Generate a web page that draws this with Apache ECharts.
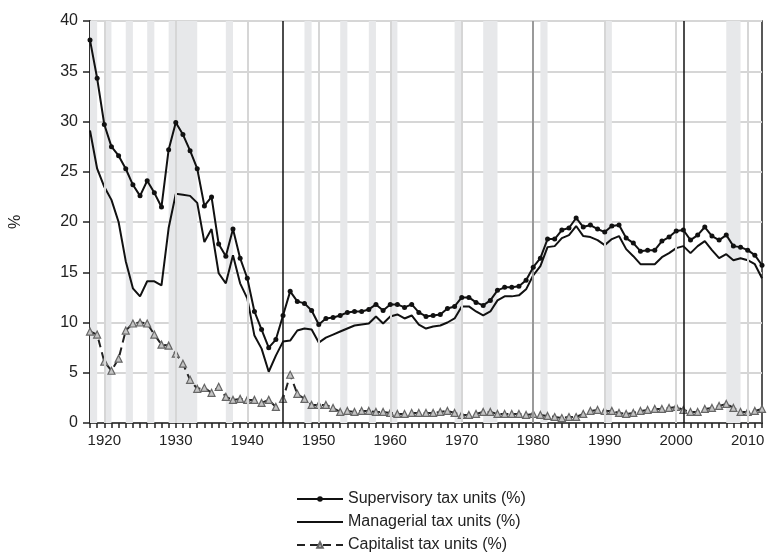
<!DOCTYPE html>
<html>
<head>
<meta charset="utf-8">
<script src="https://cdn.jsdelivr.net/npm/echarts@6/dist/echarts.min.js"></script>
<style>
  html, body { margin: 0; padding: 0; background: #fff; }
  #chart { width: 768px; height: 554px; }
</style>
</head>
<body>
<div id="chart"></div>
<script>
// annual values, 1918..2012
const firstYear = 1918;
const lastYear = 2012;

const supervisory = [
  38.1, 34.3, 29.7, 27.5, 26.6, 25.3, 23.7, 22.6, 24.1, 22.9, 21.5, 27.2, 29.9, 28.7, 27.1, 25.3, 21.6,
  22.5, 17.8, 16.6, 19.3, 16.4, 14.4, 11.1, 9.3, 7.5, 8.3, 10.7, 13.1, 12.1, 11.9, 11.2, 9.8,
  10.4, 10.5, 10.7, 11.0, 11.1, 11.1, 11.3, 11.8, 11.2, 11.8, 11.8, 11.5, 11.8, 11.0, 10.6, 10.7,
  10.8, 11.4, 11.6, 12.5, 12.5, 12.0, 11.7, 12.2, 13.2, 13.5, 13.5, 13.6, 14.2, 15.5, 16.4, 18.3, 18.3,
  19.2, 19.4, 20.4, 19.5, 19.7, 19.3, 19.0, 19.6, 19.7, 18.4, 17.9, 17.1, 17.2, 17.2, 18.1, 18.5, 19.1,
  19.2, 18.2, 18.7, 19.5, 18.6, 18.2, 18.7, 17.6, 17.5, 17.2, 16.7, 15.7
];

const managerial = [
  29.1, 25.3, 23.5, 22.2, 20.0, 16.1, 13.4, 12.6, 14.1, 14.1, 13.7, 19.4, 22.8, 22.7, 22.6, 21.9, 18.0,
  19.3, 14.9, 13.9, 16.7, 13.9, 12.4, 8.7, 7.4, 5.1, 6.7, 8.1, 8.2, 9.2, 9.4, 9.3, 8.0,
  8.5, 8.8, 9.1, 9.4, 9.7, 9.8, 9.9, 10.6, 9.9, 10.6, 10.8, 10.4, 10.7, 9.8, 9.4, 9.6,
  9.7, 10.0, 10.4, 11.6, 11.6, 11.1, 10.7, 11.1, 12.2, 12.6, 12.6, 12.7, 13.3, 14.7, 15.6, 17.5, 17.6,
  18.4, 18.7, 19.6, 18.6, 18.5, 18.2, 17.7, 18.3, 18.6, 17.3, 16.6, 15.8, 15.8, 15.8, 16.5, 16.9, 17.4,
  17.6, 16.9, 17.6, 18.1, 17.2, 16.4, 16.8, 16.2, 16.4, 16.2, 15.8, 14.4
];

const capitalist = [
  9.1, 8.8, 6.1, 5.2, 6.4, 9.2, 9.9, 10.0, 9.9, 8.8, 7.8, 7.7, 6.9, 5.9, 4.3, 3.4, 3.5,
  3.0, 3.6, 2.6, 2.3, 2.4, 2.3, 2.3, 2.0, 2.3, 1.6, 2.4, 4.8, 2.9, 2.4, 1.8, 1.8,
  1.8, 1.5, 1.1, 1.2, 1.1, 1.2, 1.2, 1.1, 1.1, 1.0, 0.9, 0.9, 1.0, 1.0, 1.0, 1.0,
  1.1, 1.2, 1.0, 0.8, 0.8, 0.9, 1.1, 1.1, 0.9, 0.9, 0.9, 0.9, 0.8, 0.9, 0.8, 0.7, 0.6,
  0.5, 0.6, 0.6, 0.9, 1.2, 1.3, 1.2, 1.2, 1.0, 0.9, 1.0, 1.2, 1.3, 1.4, 1.4, 1.5, 1.6,
  1.3, 1.1, 1.1, 1.4, 1.5, 1.7, 1.9, 1.5, 1.1, 1.1, 1.2, 1.4
];

// shaded recession periods
const recessions = [
  [1918, 1919], [1920, 1921], [1923, 1924], [1926, 1927], [1929, 1933], [1937, 1938],
  [1948, 1949], [1953, 1954], [1957, 1958], [1960, 1961], [1969, 1970], [1973, 1975],
  [1981, 1982], [1990, 1991], [2007, 2009]
];
const decadeLines = [1920, 1930, 1940, 1950, 1960, 1970, 1990, 2000, 2010];
const greyLines = [1980];
const blackLines = [1945, 2001];

const seriesNames = ['Supervisory tax units (%)', 'Managerial tax units (%)', 'Capitalist tax units (%)'];

const font = "'Liberation Sans', Arial, sans-serif";

function pairs(vals) {
  return vals.map((v, i) => [firstYear + i, v]);
}

const chart = echarts.init(document.getElementById('chart'));

chart.setOption({
  animation: false,
  textStyle: { fontFamily: font },
  grid: {
    left: 89, right: 6, top: 21, bottom: 131,
    show: true, borderColor: '#222', borderWidth: 1.5, backgroundColor: 'transparent'
  },
  legend: {
    orient: 'vertical',
    left: 291, top: 485, height: 70,
    itemWidth: 46, itemHeight: 7, itemGap: 5,
    textStyle: { fontSize: 16, color: '#222', fontFamily: font, lineHeight: 18 },
    data: [
      { name: seriesNames[0] },
      { name: seriesNames[1], itemStyle: { color: 'transparent', borderWidth: 0 } },
      { name: seriesNames[2] }
    ]
  },
  xAxis: {
    type: 'value', min: firstYear, max: lastYear, interval: 1,
    axisLine: { show: true, onZero: false, lineStyle: { color: '#222', width: 1.5 } },
    axisTick: { show: true, length: 5, lineStyle: { color: '#222', width: 1.5 } },
    axisLabel: {
      fontSize: 15, color: '#222', margin: 10, hideOverlap: false, showMinLabel: true, showMaxLabel: true,
      formatter: v => (v % 10 === 0 ? String(v) : '')
    },
    splitLine: { show: false }
  },
  yAxis: {
    type: 'value', min: 0, max: 40, interval: 5,
    name: '%', nameLocation: 'middle', nameGap: 66, nameRotate: 90,
    nameTextStyle: { fontSize: 16, color: '#222' },
    axisLine: { show: true, lineStyle: { color: '#222', width: 1.5 } },
    axisTick: { show: true, length: 7, lineStyle: { color: '#222', width: 1.5 } },
    axisLabel: { fontSize: 16, color: '#222', margin: 12 },
    splitLine: { show: true, lineStyle: { color: '#d6d6d6', width: 2 } }
  },
  series: [
    {
      type: 'line', name: 'bg', data: [], silent: true, z: 1,
      markArea: {
        silent: true,
        itemStyle: { color: '#e7e8ea' },
        data: recessions.map(r => [{ xAxis: r[0] }, { xAxis: r[1] }])
      },
      markLine: {
        silent: true, symbol: 'none', label: { show: false },
        data: [
          ...decadeLines.map(x => ({ xAxis: x, lineStyle: { color: '#d6d6d6', width: 2, type: 'solid' } })),
          ...greyLines.map(x => ({ xAxis: x, lineStyle: { color: '#9a9a9a', width: 2, type: 'solid' } })),
          ...blackLines.map(x => ({ xAxis: x, lineStyle: { color: '#111', width: 1.5, type: 'solid' } }))
        ]
      }
    },
    {
      type: 'line', name: seriesNames[0], data: pairs(supervisory), z: 5,
      symbol: 'circle', symbolSize: 5, showSymbol: true,
      lineStyle: { color: '#111', width: 2 },
      itemStyle: { color: '#111' }
    },
    {
      type: 'line', name: seriesNames[1], data: pairs(managerial), z: 4,
      symbol: 'none',
      lineStyle: { color: '#111', width: 2 },
      itemStyle: { color: '#111' }
    },
    {
      type: 'line', name: seriesNames[2], data: pairs(capitalist), z: 3,
      symbol: 'triangle', symbolSize: 7, showSymbol: true,
      lineStyle: { color: '#222', width: 2, type: [8, 5] },
      itemStyle: { color: '#c4c4c4', borderColor: '#666', borderWidth: 1.2 }
    }
  ]
});
</script>
</body>
</html>
